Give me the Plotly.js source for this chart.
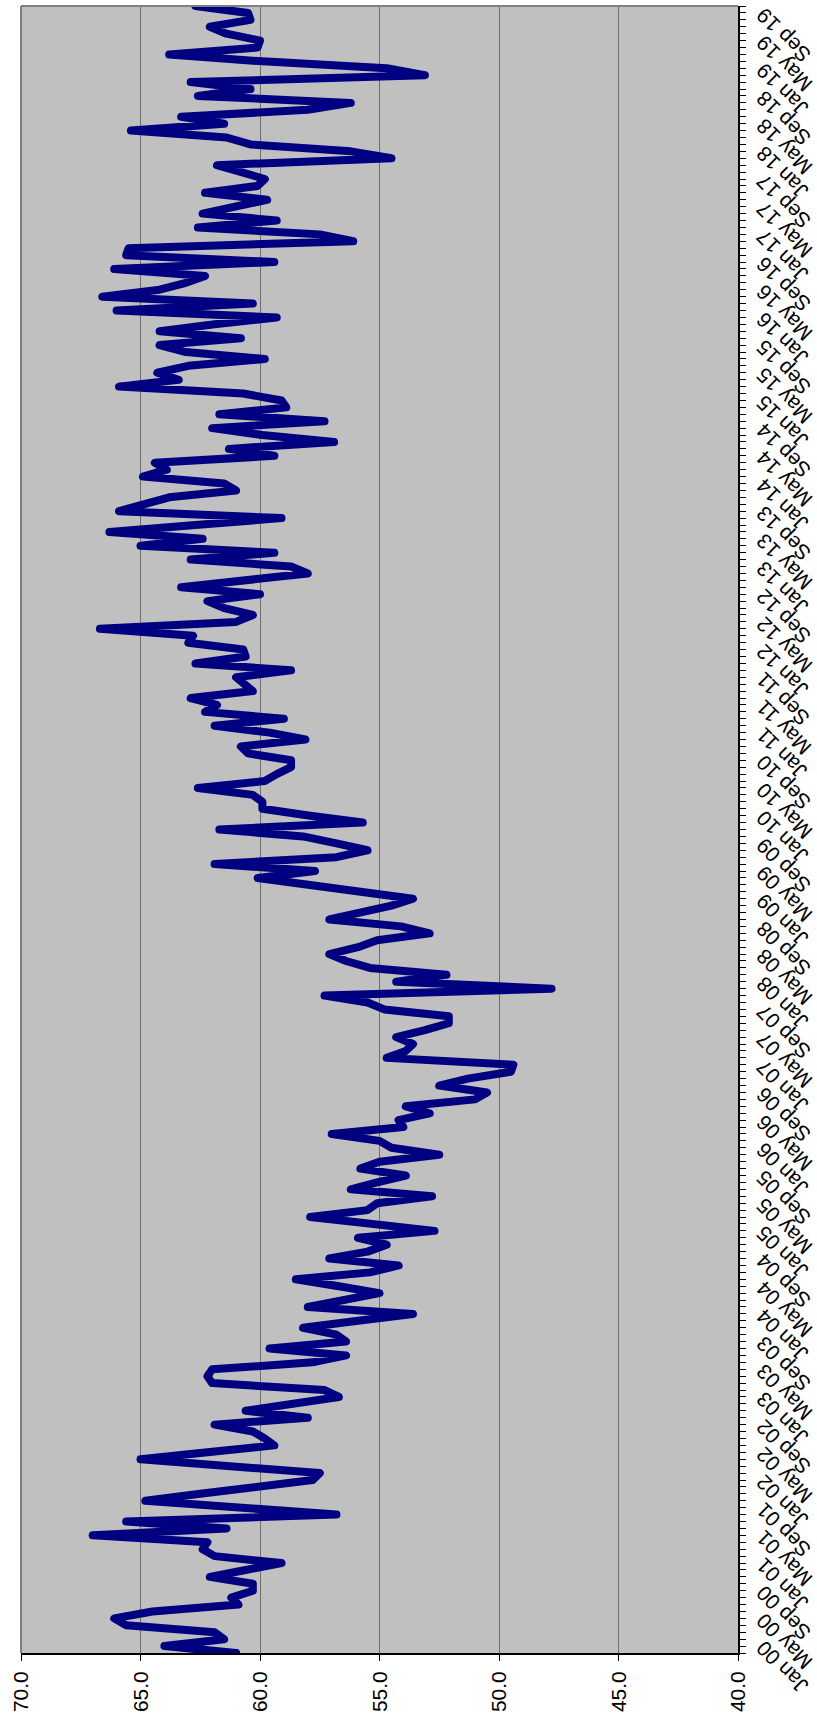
<!DOCTYPE html>
<html><head><meta charset="utf-8">
<script src="https://cdn.plot.ly/plotly-3.0.1.min.js"></script>
<style>
html,body{margin:0;padding:0;width:817px;height:1722px;overflow:hidden;background:#fff;}
#wrap{position:absolute;left:0;top:0;width:1722px;height:817px;transform-origin:0 0;transform:translate(0,1722px) rotate(-90deg);}
.js-line{stroke-linejoin:round !important;stroke-linecap:round !important;}
</style></head><body>
<div id="wrap"><div id="chart" style="width:1722px;height:817px"></div></div>
<script>
const monthNames = ['Jan','Feb','Mar','Apr','May','Jun','Jul','Aug','Sep','Oct','Nov','Dec'];
const startYear = 2000;
const values = [
61.0,64.0,61.5,61.9,65.6,66.1,64.5,60.9,61.2,60.3,60.3,62.1,
60.6,59.1,61.9,62.4,62.2,67.0,61.4,65.6,56.8,60.8,64.8,62.5,
60.2,57.8,57.5,61.2,65.0,62.2,59.4,59.8,60.3,61.9,58.0,60.6,
58.7,56.7,57.3,62.0,62.2,62.0,57.8,56.4,59.6,56.4,56.8,58.2,
55.9,53.6,58.0,56.5,55.0,56.7,58.5,55.4,54.2,57.1,55.5,54.7,
55.9,52.7,55.3,57.9,55.5,55.1,52.8,56.2,55.1,53.9,55.8,55.0,
52.5,54.5,55.0,57.0,54.0,54.2,52.9,53.9,51.0,50.5,52.5,51.3,
49.5,49.4,54.7,53.9,53.6,54.3,53.1,52.1,52.1,54.8,55.5,57.3,
47.8,54.3,52.2,55.4,56.4,57.1,55.9,55.1,52.9,54.1,57.1,55.8,
54.5,53.6,55.7,57.5,60.1,57.7,61.9,56.8,55.5,56.8,58.2,61.7,
55.7,57.9,59.9,59.9,60.3,62.6,59.8,59.3,58.7,58.7,60.5,60.8,
58.1,59.6,61.9,59.0,62.3,61.8,62.9,60.3,60.7,61.0,58.7,62.7,
60.6,60.7,63.0,62.8,66.7,61.0,60.3,61.5,62.2,60.0,63.3,60.7,
58.0,58.7,62.9,59.4,65.0,62.4,66.3,62.7,59.1,65.9,64.9,63.8,
61.0,61.5,64.9,63.9,64.4,59.4,61.3,56.9,59.9,62.0,57.3,61.7,
58.9,59.1,60.7,65.9,63.4,64.3,63.0,59.8,63.1,64.2,60.8,64.2,
61.9,59.3,66.0,60.3,66.6,64.2,63.1,62.3,66.1,59.4,65.6,65.5,
56.1,57.5,62.6,59.3,62.4,61.0,59.7,62.3,60.1,59.8,60.8,61.8,
54.5,56.2,60.4,61.4,65.4,61.5,63.3,58.0,56.2,62.6,60.4,62.9,
53.1,54.7,59.9,63.8,60.1,60.0,61.4,62.1,60.4,60.5,62.7
];
const categories = values.map((v,i)=> monthNames[i%12] + ' ' + String((startYear + Math.floor(i/12))%100).padStart(2,'0'));
const labelEvery = 4;
const tickText = categories.map((c,i)=> i%labelEvery===0 ? c : '');
const valueTicks = [40,45,50,55,60,65,70];

const font = {family:'"Liberation Sans", Arial, sans-serif', size:21, color:'#000'};

Plotly.newPlot('chart', [{
  type:'scatter', mode:'lines', x:categories, y:values,
  line:{color:'#000080', width:8, shape:'linear'}, hoverinfo:'skip'
}], {
  width:1722, height:817,
  margin:{l:69, r:6, t:21, b:79, pad:0},
  paper_bgcolor:'#ffffff', plot_bgcolor:'#C0C0C0',
  showlegend:false, font:font,
  xaxis:{type:'category', range:[0, values.length-1], tickmode:'array',
    tickvals:categories, ticktext:tickText, tickangle:-45,
    ticks:'outside', ticklen:6, tickcolor:'#000', tickwidth:1,
    showline:true, linecolor:'#000', linewidth:2, showgrid:false, zeroline:false,
    tickfont:font, ticklabelstandoff:-3, ticklabelshift:6, automargin:false},
  yaxis:{range:[40,70], tickmode:'array', tickvals:valueTicks,
    ticktext:valueTicks.map(v=>v.toFixed(1)),
    ticks:'outside', ticklen:6, tickcolor:'#000', tickwidth:1,
    showline:true, linecolor:'#000', linewidth:2,
    showgrid:true, gridcolor:'#6e6e6e', gridwidth:1, zeroline:false,
    tickfont:font, ticklabelstandoff:6, automargin:false},
  shapes:[
    {type:'line', xref:'paper', yref:'paper', x0:0, x1:1, y0:1, y1:1, line:{color:'#808080', width:2}},
    {type:'line', xref:'paper', yref:'paper', x0:1, x1:1, y0:0, y1:1, line:{color:'#808080', width:2}}
  ]
}, {staticPlot:true, displayModeBar:false});
</script>
</body></html>
